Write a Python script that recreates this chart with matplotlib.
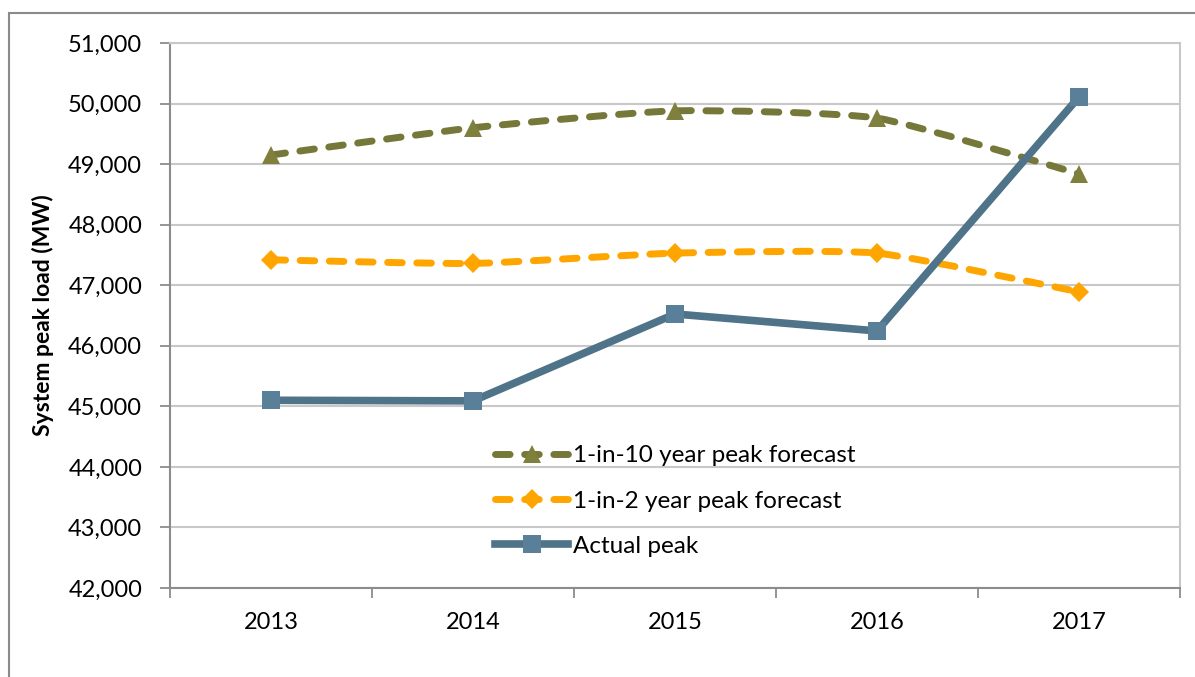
import numpy as np
import matplotlib
matplotlib.use('Agg')
import matplotlib.pyplot as plt
from matplotlib.path import Path
from matplotlib.patches import PathPatch, Rectangle
from matplotlib.lines import Line2D
from matplotlib.ticker import FuncFormatter

plt.rcParams['font.family'] = ['Lato', 'DejaVu Sans']

years = ['2013', '2014', '2015', '2016', '2017']
peak_1in10 = [49150, 49600, 49880, 49760, 48840]
peak_1in2 = [47420, 47360, 47530, 47530, 46890]
actual_peak = [45100, 45090, 46525, 46245, 50110]

c10 = '#76783A'
c10_mk = '#7F7F3E'
c2 = '#FFA500'
c_act = '#4F7389'
c_act_mk = '#5A7F98'


def smooth_path(xs, ys, k=0.09):
    # excel style smoothed line: cubic bezier through the points
    pts = np.column_stack([xs, ys]).astype(float)
    ext = np.vstack([pts[0], pts, pts[-1]])
    verts = [tuple(pts[0])]
    codes = [Path.MOVETO]
    for i in range(len(pts) - 1):
        p0, p1, p2, p3 = ext[i], ext[i + 1], ext[i + 2], ext[i + 3]
        c1 = p1 + (p2 - p0) * k
        c2_ = p2 - (p3 - p1) * k
        verts += [tuple(c1), tuple(c2_), tuple(p2)]
        codes += [Path.CURVE4] * 3
    return Path(verts, codes)


fig = plt.figure(figsize=(11.95, 6.77), dpi=100)
ax = fig.add_axes([170 / 1195, 1 - 588 / 677, 1010 / 1195, 545 / 677])

x = np.arange(len(years))

for vals, col, mk, mcol, ms in [(peak_1in10, c10, '^', c10_mk, 13),
                                (peak_1in2, c2, 'D', c2, 10)]:
    patch = PathPatch(smooth_path(x, vals), facecolor='none', edgecolor=col,
                      lw=5, linestyle=(0, (2.1, 2.1)), capstyle='round', zorder=3)
    ax.add_patch(patch)
    ax.plot(x, vals, linestyle='none', marker=mk, color=mcol, ms=ms,
            markeredgewidth=0, zorder=4)

ax.plot(x, actual_peak, color=c_act, lw=5.5, zorder=5, solid_joinstyle='miter')
ax.plot(x, actual_peak, linestyle='none', marker='s', color=c_act_mk, ms=13,
        markeredgewidth=0, zorder=6)

ax.set_xlim(-0.5, len(years) - 0.5)
ax.set_ylim(42000, 51000)
ax.set_yticks(np.arange(42000, 51001, 1000))
ax.yaxis.set_major_formatter(FuncFormatter(lambda v, p: f'{int(v):,}'))
ax.set_xticks(x)
ax.set_xticklabels(years)
ax.set_xticks(np.arange(-0.5, len(years), 1), minor=True)
ax.tick_params(axis='x', which='major', length=0, pad=17, labelsize=17)
ax.tick_params(axis='x', which='minor', length=7, width=1.3, color='#8C8C8C', direction='out')
ax.tick_params(axis='y', length=7, width=1.3, color='#8C8C8C', direction='out', pad=13, labelsize=17)

ax.grid(axis='y', color='#C8C8C8', lw=1.5, zorder=0)
ax.set_axisbelow(True)
for s in ['left', 'bottom']:
    ax.spines[s].set_color('#8C8C8C')
    ax.spines[s].set_linewidth(1.5)
for s in ['top', 'right']:
    ax.spines[s].set_color('#C8C8C8')
    ax.spines[s].set_linewidth(1.5)

ax.set_ylabel('System peak load (MW)', fontsize=16.5, fontweight='bold', labelpad=10)

handles = [
    Line2D([], [], color=c10, lw=5, linestyle=(0, (2.1, 2.1)), dash_capstyle='round',
           marker='^', ms=13, markerfacecolor=c10_mk, markeredgewidth=0),
    Line2D([], [], color=c2, lw=5, linestyle=(0, (2.1, 2.1)), dash_capstyle='round',
           marker='D', ms=10, markerfacecolor=c2, markeredgewidth=0),
    Line2D([], [], color=c_act, lw=5.5, marker='s', ms=13,
           markerfacecolor=c_act_mk, markeredgewidth=0),
]
labels = ['1-in-10 year peak forecast', '1-in-2 year peak forecast', 'Actual peak']
ax.legend(handles, labels, loc='upper left', bbox_to_anchor=(0.322, 0.262),
          frameon=False, fontsize=17.5, handlelength=3.0, handletextpad=0.2,
          labelspacing=1.0, borderpad=0, borderaxespad=0)

fig.add_artist(Rectangle((9 / 1195, -0.2), 1.2, 1.2 - 13 / 677,
                         transform=fig.transFigure, facecolor='none',
                         edgecolor='#8A8A8A', lw=1.5))

fig.savefig('out.png', dpi=100)
